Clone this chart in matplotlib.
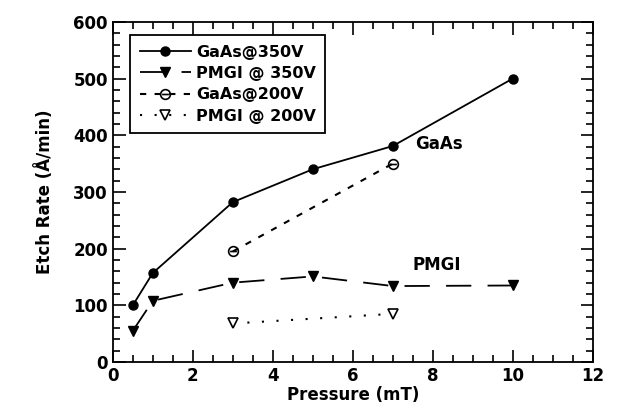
import matplotlib
matplotlib.use("Agg")
import matplotlib.pyplot as plt
from matplotlib.path import Path
from matplotlib.ticker import MultipleLocator

pressure_350 = [0.5, 1, 3, 5, 7, 10]
gaas_350 = [100, 157, 282, 340, 381, 500]
pmgi_350 = [55, 108, 140, 151, 134, 135]
pressure_200 = [3, 7]
gaas_200 = [195, 350]
pmgi_200 = [68, 85]

labels = ["GaAs@350V", "PMGI @ 350V", "GaAs@200V", "PMGI @ 200V"]

plt.rcParams['font.family'] = ['DejaVu Sans']
plt.rcParams['font.weight'] = 'bold'

fig = plt.figure(figsize=(6.3, 4.2), dpi=100)
ax = fig.add_axes([0.179, 0.138, 0.762, 0.81])

theta = Path.make_compound_path(Path.unit_circle(), Path([(-0.7, 0), (0.7, 0)]))

ax.plot(pressure_350, gaas_350, '-', color='black', lw=1.3, marker='o', ms=6.5, label=labels[0])
ax.plot(pressure_350, pmgi_350, color='black', lw=1.3, dashes=(14, 9), marker='v', ms=7.5, label=labels[1])
ax.plot(pressure_200, gaas_200, color='black', lw=1.5, dashes=(3, 4), marker=theta, ms=7,
        mfc='none', mec='black', mew=1.2, label=labels[2])
ax.plot(pressure_200, pmgi_200, color='black', lw=1.5, dashes=(1, 6), marker='v', ms=7.5,
        mfc='white', mec='black', mew=1.2, label=labels[3])

ax.text(7.55, 375, "GaAs", fontsize=12, fontweight='bold')
ax.text(7.5, 162, "PMGI", fontsize=12, fontweight='bold')

ax.set_xlim(0, 12)
ax.set_ylim(0, 600)
ax.xaxis.set_major_locator(MultipleLocator(2))
ax.xaxis.set_minor_locator(MultipleLocator(0.5))
ax.yaxis.set_major_locator(MultipleLocator(100))
ax.yaxis.set_minor_locator(MultipleLocator(20))
ax.tick_params(which='both', direction='in', top=True, right=True, labelsize=12, width=1.2)
ax.tick_params(which='major', length=9)
ax.tick_params(which='minor', length=5)
for s in ax.spines.values():
    s.set_linewidth(1.3)
for lab in ax.get_xticklabels() + ax.get_yticklabels():
    lab.set_fontweight('bold')

ax.set_xlabel("Pressure (mT)", fontsize=12, fontweight='bold', labelpad=1)
ax.set_ylabel("Etch Rate (Å/min)", fontsize=12, fontweight='bold', labelpad=14)

leg = ax.legend(loc='upper left', bbox_to_anchor=(0.02, 0.985), fancybox=False, framealpha=1,
                edgecolor='black', fontsize=11.5, handlelength=3.2, borderpad=0.6,
                labelspacing=0.4, handletextpad=0.3)
leg.get_frame().set_linewidth(1.3)
for t in leg.get_texts():
    t.set_fontweight('bold')

fig.savefig("out.png", dpi=100)
